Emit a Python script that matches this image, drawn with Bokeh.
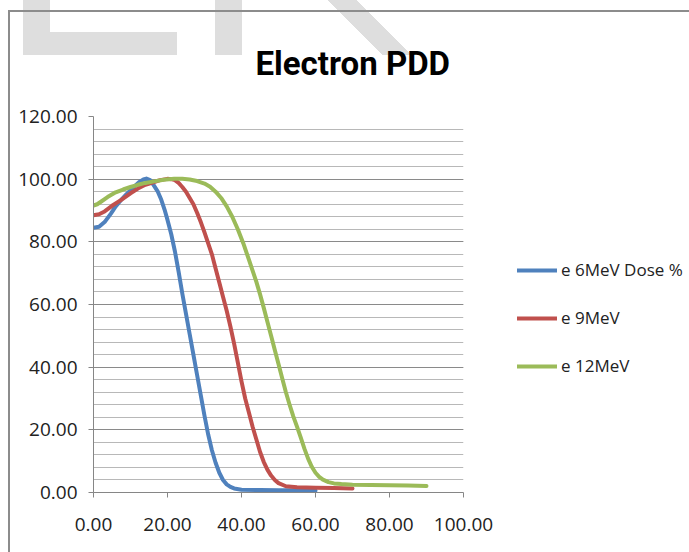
from bokeh.plotting import figure
from bokeh.models import (FixedTicker, PrintfTickFormatter, Legend, LegendItem, Range1d)
from bokeh.embed import file_html
from bokeh.resources import INLINE

# ---- data (depth, dose %) ----
x6 = [0, 1.5, 3, 4.7, 6, 7.4, 9, 10.5, 12.3, 13.5, 14.3, 15.3, 16.3, 17.3, 18.3, 19.2,
      20, 21, 22, 23, 24, 25, 26, 27, 28, 29, 30, 31, 32, 33, 34, 35, 36, 37, 38, 40,
      45, 50, 55, 60]
y6 = [84.5, 84.8, 86.3, 89, 91.3, 93.3, 95.3, 97, 99, 99.9, 100.2, 99.7, 98, 96.2, 93.5, 90.3,
      87, 82.5, 77, 70.5, 63.5, 57, 50.5, 44, 37.5, 31, 24.5, 18.5, 13.5, 9.5, 6.3, 4, 2.6,
      1.8, 1.3, 0.9, 0.8, 0.7, 0.7, 0.6]

x9 = [0, 1.5, 3, 5, 7.4, 10, 12, 14, 16.4, 18, 20, 21, 22, 23, 24, 25, 26, 27, 28, 29,
      30, 31, 32, 33, 34, 35, 36, 37, 38, 39, 40, 41, 42, 43, 44, 45, 46, 47, 48, 49, 50,
      52, 55, 60, 65, 70]
y9 = [88.5, 88.8, 89.7, 91.5, 93.3, 95.5, 97, 98.2, 99.1, 99.7, 100.1, 100, 99.7, 98.8, 97.5,
      96, 94, 92, 89.3, 86.3, 83, 79.5, 76, 71.5, 67, 62.5, 58, 53, 47.5, 41.5, 35.5, 30,
      25.5, 21, 17, 13, 9.8, 7.3, 5.4, 4, 3, 2, 1.7, 1.5, 1.4, 1.3]

x12 = [0, 1, 2, 3.8, 6, 8, 10, 12, 14, 16.4, 19, 21.8, 24, 26, 28, 30, 31.5, 33, 34.5, 36,
       37.5, 39, 40.5, 42, 43, 44, 45, 46, 47, 48, 49, 50, 51, 52, 53, 54, 55, 56, 57, 58,
       59, 60, 61, 62, 63.5, 65, 67, 70, 75, 80, 85, 90]
y12 = [91.6, 92, 92.8, 94.3, 95.8, 96.7, 97.5, 98.2, 98.8, 99.3, 99.8, 100.1, 100.1, 99.9,
       99.4, 98.6, 97.6, 96, 94, 91.3, 88, 84, 79.5, 74.3, 70.8, 67.3, 63.3, 59, 54.5, 50,
       45.5, 41, 36.5, 32, 28, 24.3, 21, 17.6, 14, 10.8, 8.2, 6.3, 5, 4.1, 3.3, 2.9, 2.7,
       2.5, 2.4, 2.3, 2.2, 2.1]

series_names = ["e 6MeV Dose %", "e 9MeV", "e 12MeV"]
series_colors = ["#4F81BD", "#C0504D", "#9BBB59"]
x_ticks = [0, 20, 40, 60, 80, 100]
y_ticks = [0, 20, 40, 60, 80, 100, 120]
y_minor = list(range(0, 121, 4))
title_text = "Electron PDD"

LABEL_FONT = "Open Sans"
TITLE_FONT = "Roboto"

p = figure(frame_width=370, frame_height=376, output_backend="svg", toolbar_location=None,
           x_range=Range1d(0, 100), y_range=Range1d(0, 120),
           min_border_left=93, min_border_right=226, min_border_top=116,
           min_border_bottom=60, title=title_text)
p.outline_line_color = None
p.background_fill_color = "white"
p.border_fill_alpha = 0

# chart border + light watermark drawn as page background behind the transparent canvas
wm = "#dedede"
bd = "#8c8c8c"
p.styles = {
    "background": ", ".join([
        f"linear-gradient({bd},{bd}) 8px 10px / 681px 2px no-repeat",
        f"linear-gradient({bd},{bd}) 8px 10px / 2px 542px no-repeat",
        f"linear-gradient({wm},{wm}) 23px 0px / 27px 55px no-repeat",
        f"linear-gradient({wm},{wm}) 23px 32px / 154px 23px no-repeat",
        f"linear-gradient({wm},{wm}) 215px 0px / 27px 55px no-repeat",
        f"linear-gradient(45deg, transparent 38.9px, {wm} 38.9px, {wm} 60.1px, transparent 60.1px) 327px 0px / 85px 55px no-repeat",
        "#ffffff",
    ])
}

# title
p.title.text_font = TITLE_FONT
p.title.text_font_style = "bold"
p.title.text_font_size = "33px"
p.title.text_color = "black"
p.title.align = "left"
p.title.offset = 162
p.title.standoff = 68

# axes
for ax in (p.xaxis[0], p.yaxis[0]):
    ax.axis_line_color = "#868686"
    ax.major_tick_line_color = "#868686"
    ax.major_tick_out = 5
    ax.major_tick_in = 0
    ax.minor_tick_out = 0
    ax.minor_tick_in = 0
    ax.major_label_text_font = LABEL_FONT
    ax.major_label_text_font_size = "19px"
    ax.major_label_text_color = "#222222"
    ax.formatter = PrintfTickFormatter(format="%.2f")
p.xaxis[0].ticker = FixedTicker(ticks=x_ticks)
p.yaxis[0].ticker = FixedTicker(ticks=y_ticks, minor_ticks=y_minor)
p.xaxis[0].major_label_standoff = 20
p.yaxis[0].major_label_standoff = 11

p.xgrid.grid_line_color = None
p.ygrid.grid_line_color = "#8a8a8a"
p.ygrid.minor_grid_line_color = "#b8b8b8"

renderers = []
for xs, ys, c in zip([x6, x9, x12], [y6, y9, y12], series_colors):
    r = p.line(xs, ys, line_color=c, line_width=4, line_join="round", line_cap="round")
    renderers.append(r)

legend = Legend(items=[LegendItem(label=n, renderers=[r]) for n, r in zip(series_names, renderers)],
                location=(54, 115), glyph_width=40, glyph_height=20, label_height=20,
                label_standoff=4, spacing=25, padding=0, margin=0,
                border_line_color=None, background_fill_alpha=0,
                label_text_font=LABEL_FONT, label_text_font_size="17px",
                label_text_color="#222222")
p.add_layout(legend, "right")

open("out.html", "w").write(file_html(p, INLINE))
